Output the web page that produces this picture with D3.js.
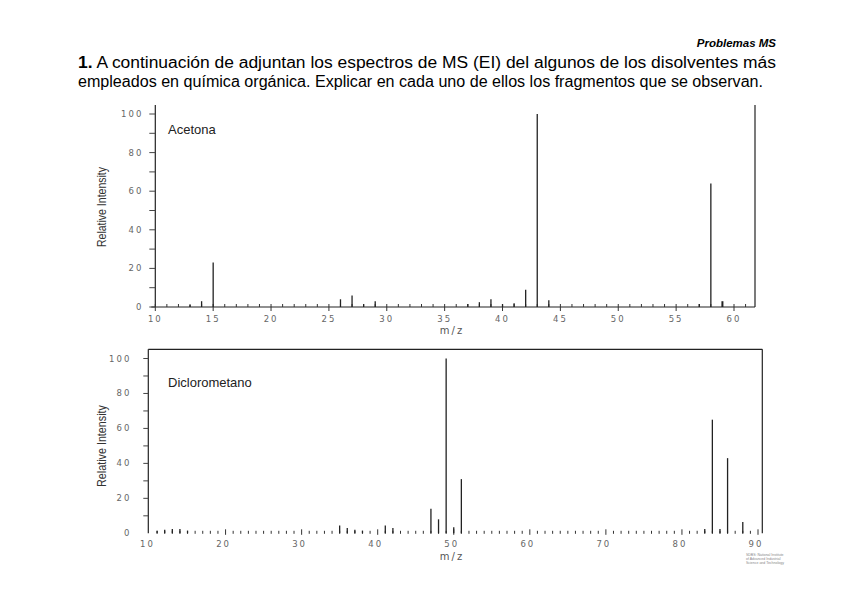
<!DOCTYPE html>
<html><head><meta charset="utf-8">
<script src="https://cdn.jsdelivr.net/npm/d3@7"></script>
<style>html,body{margin:0;padding:0;background:#fff;}svg{display:block;}</style>
</head><body>
<script>
// ---- data ----
const acetonaMz  = [13, 14, 15, 26, 27, 28, 29, 37, 38, 39, 40, 41, 42, 43, 44, 57, 58, 59];
const acetonaInt = [1, 3, 23, 4, 6, 1.5, 3, 1.5, 2.5, 4, 1.5, 2, 9, 100, 3.5, 1.5, 64, 3];
const dcmMz  = [11, 12, 13, 14, 15, 35, 36, 37, 38, 41, 42, 47, 48, 49, 50, 51, 83, 84, 85, 86, 88];
const dcmInt = [1.5, 2, 2.5, 2.5, 1.5, 4.5, 3, 2, 1.5, 4.5, 3, 14, 8, 100, 3.5, 31, 2.5, 65, 2.5, 43, 6.5];
const topXTicks = [10, 15, 20, 25, 30, 35, 40, 45, 50, 55, 60];
const botXTicks = [10, 20, 30, 40, 50, 60, 70, 80, 90];
const yTicks = [0, 20, 40, 60, 80, 100];

const W = 848, H = 599;
const svg = d3.select("body").append("svg").attr("width", W).attr("height", H);

// ---- header ----
svg.append("text").attr("x", 776).attr("y", 47).attr("text-anchor", "end")
  .attr("font-family", "Liberation Sans Narrow, Liberation Sans, Arial, sans-serif")
  .attr("font-size", 11.5).attr("font-weight", "bold").attr("font-style", "italic")
  .text("Problemas MS");
const l1 = svg.append("text").attr("x", 78).attr("y", 68)
  .attr("font-family", "Liberation Sans Narrow, Liberation Sans, Arial, sans-serif")
  .attr("font-size", 16).attr("textLength", 698).attr("lengthAdjust", "spacingAndGlyphs");
l1.append("tspan").attr("font-weight", "bold").text("1.");
l1.append("tspan").text(" A continuación de adjuntan los espectros de MS (EI) del algunos de los disolventes más");
svg.append("text").attr("x", 78).attr("y", 87)
  .attr("font-family", "Liberation Sans Narrow, Liberation Sans, Arial, sans-serif")
  .attr("font-size", 16).attr("textLength", 685).attr("lengthAdjust", "spacingAndGlyphs")
  .text("empleados en química orgánica. Explicar en cada uno de ellos los fragmentos que se observan.");

const tickFont = "DejaVu Sans, sans-serif";
const tickCol = "#666";

function yAxisTicks(g, y, x0) {
  d3.range(0, 101, 10).forEach(v => {
    g.append("line").attr("x1", x0 - 6).attr("x2", x0).attr("y1", y(v)).attr("y2", y(v))
      .attr("stroke", "#444").attr("stroke-width", 1);
  });
  g.selectAll("text.yl").data(yTicks).join("text").attr("class", "yl")
    .attr("x", x0 - 12).attr("y", d => y(d) + 3).attr("text-anchor", "end")
    .attr("font-family", tickFont).attr("font-size", 8.5).attr("letter-spacing", 2)
    .attr("fill", tickCol).text(d => d);
}

// ---- top chart: Acetona ----
{
  const x = d3.scaleLinear().domain([10, 60]).range([155.3, 734]);
  const y = d3.scaleLinear().domain([0, 100]).range([307, 114]);
  const g = svg.append("g");
  const xEnd = 755, yTop = 105;
  // frame
  g.append("line").attr("x1", x(10)).attr("x2", x(10)).attr("y1", yTop).attr("y2", y(0)).attr("stroke", "#222").attr("stroke-width", 1.2);
  g.append("line").attr("x1", x(10) - 4).attr("x2", xEnd).attr("y1", y(0)).attr("y2", y(0)).attr("stroke", "#222").attr("stroke-width", 1.2);
  g.append("line").attr("x1", xEnd).attr("x2", xEnd).attr("y1", yTop).attr("y2", y(0)).attr("stroke", "#222").attr("stroke-width", 1.2);
  // x ticks
  d3.range(10, 62).forEach(v => {
    const major = v % 5 === 0;
    g.append("line").attr("x1", x(v)).attr("x2", x(v))
      .attr("y1", y(0) - 3).attr("y2", y(0) + (major ? 4 : 0))
      .attr("stroke", "#333").attr("stroke-width", 1);
  });
  g.selectAll("text.xl").data(topXTicks).join("text").attr("class", "xl")
    .attr("x", d => x(d)).attr("y", 322).attr("text-anchor", "middle")
    .attr("font-family", tickFont).attr("font-size", 8.5).attr("letter-spacing", 2)
    .attr("fill", tickCol).text(d => d);
  yAxisTicks(g, y, x(10));
  // peaks
  g.selectAll("line.pk").data(acetonaMz).join("line").attr("class", "pk")
    .attr("x1", d => x(d)).attr("x2", d => x(d))
    .attr("y1", y(0)).attr("y2", (d, i) => y(acetonaInt[i]))
    .attr("stroke", "#222").attr("stroke-width", (d, i) => d === 59 ? 2 : 1.3);
  g.append("text").attr("x", 168).attr("y", 134)
    .attr("font-family", "Liberation Sans, Arial, sans-serif").attr("font-size", 13).attr("fill", "#222")
    .text("Acetona");
  g.append("text").attr("transform", "translate(106,207) rotate(-90)").attr("text-anchor", "middle")
    .attr("font-family", "Liberation Sans Narrow, Liberation Sans, Arial, sans-serif").attr("font-size", 13)
    .attr("textLength", 80).attr("lengthAdjust", "spacingAndGlyphs").attr("fill", "#333")
    .text("Relative Intensity");
  g.append("text").attr("x", 452).attr("y", 334).attr("text-anchor", "middle")
    .attr("font-family", tickFont).attr("font-size", 10).attr("letter-spacing", 2).attr("fill", "#555")
    .text("m/z");
}

// ---- bottom chart: Diclorometano ----
{
  const x = d3.scaleLinear().domain([10, 90]).range([149.5, 758]);
  const y = d3.scaleLinear().domain([0, 100]).range([533.3, 358.5]);
  const g = svg.append("g");
  const xEnd = 762.3, yTop = 349.3, x0 = 148.3;
  g.append("line").attr("x1", x0).attr("x2", x0).attr("y1", yTop).attr("y2", y(0)).attr("stroke", "#222").attr("stroke-width", 1.2);
  g.append("line").attr("x1", x0).attr("x2", xEnd).attr("y1", yTop).attr("y2", yTop).attr("stroke", "#222").attr("stroke-width", 1.2);
  g.append("line").attr("x1", xEnd).attr("x2", xEnd).attr("y1", yTop).attr("y2", y(0)).attr("stroke", "#222").attr("stroke-width", 1.2);
  // unit ticks (no baseline)
  d3.range(11, 91).forEach(v => {
    const major = v % 10 === 0;
    g.append("line").attr("x1", x(v)).attr("x2", x(v))
      .attr("y1", y(0) - (major ? 4 : 2.5)).attr("y2", y(0) + (major ? 1.5 : 0.5))
      .attr("stroke", "#333").attr("stroke-width", 1);
  });
  g.selectAll("text.xl").data(botXTicks).join("text").attr("class", "xl")
    .attr("x", d => x(d) - 2).attr("y", 547).attr("text-anchor", "middle")
    .attr("font-family", tickFont).attr("font-size", 8.5).attr("letter-spacing", 2)
    .attr("fill", tickCol).text(d => d);
  // y ticks
  d3.range(10, 101, 10).forEach(v => {
    g.append("line").attr("x1", x0 - 5).attr("x2", x0).attr("y1", y(v)).attr("y2", y(v))
      .attr("stroke", "#444").attr("stroke-width", 1);
  });
  g.selectAll("text.yl").data(yTicks).join("text").attr("class", "yl")
    .attr("x", x0 - 17).attr("y", d => y(d) + 3).attr("text-anchor", "end")
    .attr("font-family", tickFont).attr("font-size", 8.5).attr("letter-spacing", 2)
    .attr("fill", tickCol).text(d => d);
  g.selectAll("line.pk").data(dcmMz).join("line").attr("class", "pk")
    .attr("x1", d => x(d)).attr("x2", d => x(d))
    .attr("y1", y(0)).attr("y2", (d, i) => y(dcmInt[i]))
    .attr("stroke", "#222").attr("stroke-width", 1.3);
  g.append("text").attr("x", 168).attr("y", 387)
    .attr("font-family", "Liberation Sans, Arial, sans-serif").attr("font-size", 13).attr("fill", "#222")
    .text("Diclorometano");
  g.append("text").attr("transform", "translate(106,446) rotate(-90)").attr("text-anchor", "middle")
    .attr("font-family", "Liberation Sans Narrow, Liberation Sans, Arial, sans-serif").attr("font-size", 13)
    .attr("textLength", 82).attr("lengthAdjust", "spacingAndGlyphs").attr("fill", "#333")
    .text("Relative Intensity");
  g.append("text").attr("x", 452).attr("y", 560).attr("text-anchor", "middle")
    .attr("font-family", tickFont).attr("font-size", 10).attr("letter-spacing", 2).attr("fill", "#555")
    .text("m/z");
  // tiny credit block
  const cr = ["SDBS: National Institute", "of Advanced Industrial", "Science and Technology"];
  g.selectAll("text.cr").data(cr).join("text").attr("class", "cr")
    .attr("x", 746).attr("y", (d, i) => 556 + i * 4)
    .attr("font-family", "Liberation Sans, sans-serif").attr("font-size", 3.5).attr("fill", "#888")
    .text(d => d);
}
</script>
</body></html>
